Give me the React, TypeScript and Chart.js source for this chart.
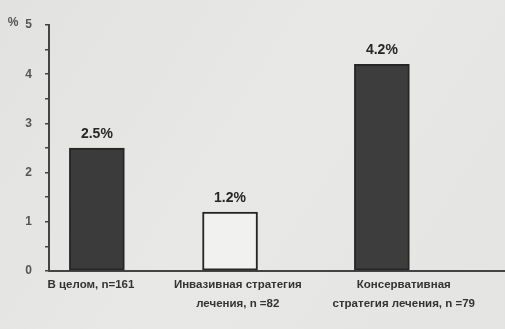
import React, { useEffect, useRef } from "react";
import { Chart, registerables } from "chart.js";

Chart.register(...registerables);

const categories: string[][] = [
  ["В целом, n=161"],
  ["Инвазивная стратегия", "лечения, n =82"],
  ["Консервативная", "стратегия лечения, n =79"],
];
const values: number[] = [2.5, 1.2, 4.2];
const valueLabels: string[] = ["2.5%", "1.2%", "4.2%"];
// horizontal placement of bars and of their captions on a 0..100 x scale
const barPositions: number[] = [10.5, 39.7, 73];
const labelPositions: number[] = [9.2, 41.4, 77.8];

const FONT = "'Liberation Sans', Arial, sans-serif";

const labelPlugin = {
  id: "valueLabels",
  afterDatasetsDraw(chart: any) {
    const ctx = chart.ctx;
    const meta = chart.getDatasetMeta(0);
    ctx.save();
    ctx.font = `bold 14px ${FONT}`;
    ctx.fillStyle = "#262626";
    ctx.textAlign = "center";
    ctx.textBaseline = "bottom";
    meta.data.forEach((bar: any, i: number) => {
      ctx.fillText(valueLabels[i], bar.x, bar.y - 7);
    });
    const ys = chart.scales.y;
    ctx.font = `bold 12px ${FONT}`;
    ctx.fillStyle = "#555";
    ctx.textAlign = "center";
    ctx.textBaseline = "middle";
    ctx.fillText("%", 13, ys.getPixelForValue(5) - 2);
    ctx.restore();
  },
};

const bgPlugin = {
  id: "bg",
  beforeDraw(chart: any) {
    const { ctx, width, height } = chart;
    ctx.save();
    const g = ctx.createLinearGradient(0, 0, width, height);
    g.addColorStop(0, "#e2e2e0");
    g.addColorStop(0.5, "#e8e8e6");
    g.addColorStop(1, "#e4e4e2");
    ctx.fillStyle = g;
    ctx.fillRect(0, 0, width, height);
    ctx.restore();
  },
};

export default function App() {
  const ref = useRef<HTMLCanvasElement>(null);
  useEffect(() => {
    document.body.style.margin = "0";
    document.body.style.background = "#e6e6e4";
    const chart = new Chart(ref.current!, {
      type: "bar",
      data: {
        datasets: [
          {
            data: values.map((v, i) => ({ x: barPositions[i], y: v })),
            backgroundColor: ["#3b3b3b", "#f1f1ef", "#3d3d3d"],
            borderColor: "#262626",
            borderWidth: 2,
            borderSkipped: false,
            barThickness: 55,
          },
        ],
      },
      options: {
        animation: false,
        responsive: false,
        maintainAspectRatio: false,
        layout: { padding: { top: 25, right: 0, left: 0, bottom: 0 } },
        plugins: { legend: { display: false }, tooltip: { enabled: false } },
        scales: {
          x: {
            type: "linear",
            min: 0,
            max: 100,
            offset: false,
            afterBuildTicks(scale: any) {
              scale.ticks = labelPositions.map((p) => ({ value: p }));
            },
            afterFit(scale: any) {
              scale.height = 58;
            },
            ticks: {
              autoSkip: false,
              maxRotation: 0,
              padding: 4,
              color: "#333",
              font: { family: FONT, size: 11.5, weight: "bold", lineHeight: 1.65 },
              callback(_v: any, i: number) {
                return categories[i];
              },
            },
            grid: { display: false, drawTicks: false },
            border: { display: true, color: "#444", width: 2 },
          },
          y: {
            min: 0,
            max: 5,
            afterBuildTicks(scale: any) {
              const t = [];
              for (let k = 0; k <= 10; k++) t.push({ value: k / 2 });
              scale.ticks = t;
            },
            afterFit(scale: any) {
              scale.width = 49;
            },
            ticks: {
              autoSkip: false,
              padding: 13,
              color: "#555",
              font: { family: FONT, size: 12, weight: "bold" },
              callback(v: any) {
                return Number.isInteger(v) ? String(v) : "";
              },
            },
            grid: {
              drawOnChartArea: false,
              drawTicks: true,
              tickLength: 4,
              color: "#444",
              lineWidth: 1.5,
            },
            border: { display: true, color: "#444", width: 2 },
          },
        },
      },
      plugins: [bgPlugin, labelPlugin],
    } as any);
    return () => chart.destroy();
  }, []);
  return <canvas ref={ref} width={505} height={329} style={{ display: "block" }} />;
}
